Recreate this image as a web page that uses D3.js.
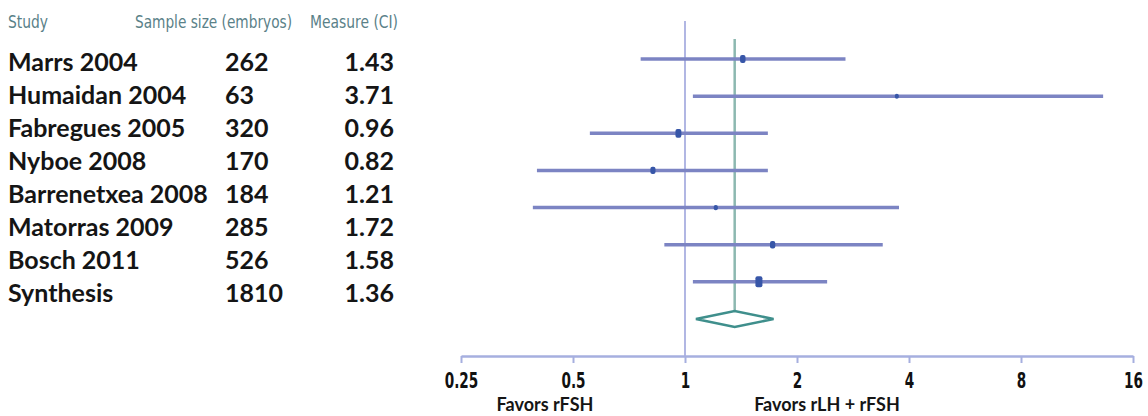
<!DOCTYPE html>
<html>
<head>
<meta charset="utf-8">
<script src="https://cdn.jsdelivr.net/npm/d3@7"></script>
<style>
  body { margin: 0; background: #fff; }
  svg { display: block; }
</style>
</head>
<body>
<div id="chart"></div>
<script>
// forest plot: rLH + rFSH vs rFSH
let studies = ["Marrs 2004", "Humaidan 2004", "Fabregues 2005", "Nyboe 2008",
  "Barrenetxea 2008", "Matorras 2009", "Bosch 2011", "Synthesis"];
let sampleSizes = [262, 63, 320, 170, 184, 285, 526, 1810];
let measures = [1.43, 3.71, 0.96, 0.82, 1.21, 1.72, 1.58, 1.36];
let ciLow = [0.76, 1.05, 0.555, 0.40, 0.39, 0.88, 1.05, 1.07];
let ciHigh = [2.70, 13.3, 1.67, 1.67, 3.76, 3.40, 2.41, 1.73];
let tickValues = [0.25, 0.5, 1, 2, 4, 8, 16];
let headers = ["Study", "Sample size (embryos)", "Measure (CI)"];
let sideLabels = ["Favors rFSH", "Favors rLH + rFSH"];

let width = 1148, height = 416;
let svg = d3.select("#chart").append("svg")
    .attr("width", width)
    .attr("height", height);

let rows = studies.map(function (s, i) {
    return {study: s, n: sampleSizes[i], m: measures[i], lo: ciLow[i], hi: ciHigh[i]};
});
let trials = rows.slice(0, rows.length - 1);
let pooled = rows[rows.length - 1];

let x = d3.scaleLog().base(2).domain([0.25, 16]).range([461, 1133]);
let yPlot = d3.scalePoint().domain(studies).range([59, 319]);
let yText = d3.scalePoint().domain(studies).range([71, 302]);

// marker size from the precision of each study (narrower CI = bigger box)
let prec = function (d) { return 1 / Math.log(d.hi / d.lo); };
let precExt = d3.extent(trials, prec);
let boxH = d3.scaleLinear().domain(precExt).range([5, 11]);
let boxW = d3.scaleLinear().domain(precExt).range([4, 7]);

// table
let headFont = "'DejaVu Sans Condensed', 'Liberation Sans', sans-serif";
let bodyFont = "Lato, 'Open Sans', sans-serif";
let headX = [8, 135, 310];
let headW = [40, 157, 88];
svg.selectAll(".head")
    .data(headers)
    .enter().append("text")
    .attr("class", "head")
    .attr("x", function (d, i) { return headX[i]; })
    .attr("y", 28)
    .attr("font-family", headFont)
    .attr("font-size", 17)
    .attr("fill", "#5a8188")
    .attr("textLength", function (d, i) { return headW[i]; })
    .attr("lengthAdjust", "spacingAndGlyphs")
    .text(function (d) { return d; });

let table = svg.append("g")
    .attr("font-family", bodyFont)
    .attr("font-weight", "bold")
    .attr("font-size", 25)
    .attr("fill", "#151515");
table.selectAll(".name")
    .data(rows).enter().append("text")
    .attr("x", 8)
    .attr("y", function (d) { return yText(d.study); })
    .text(function (d) { return d.study; });
table.selectAll(".size")
    .data(rows).enter().append("text")
    .attr("x", 225)
    .attr("y", function (d) { return yText(d.study); })
    .text(function (d) { return d.n; });
table.selectAll(".meas")
    .data(rows).enter().append("text")
    .attr("x", 394)
    .attr("text-anchor", "end")
    .attr("y", function (d) { return yText(d.study); })
    .text(function (d) { return d3.format(".2f")(d.m); });

// axis
let axis = svg.append("g")
    .attr("transform", "translate(0,356)")
    .call(d3.axisBottom(x).tickValues(tickValues)
        .tickSizeInner(7).tickSizeOuter(0)
        .tickFormat(function (d) { return d; }));
axis.select(".domain").attr("stroke", "#a6afdf").attr("stroke-width", 2.5);
axis.selectAll(".tick line").attr("stroke", "#a6afdf").attr("stroke-width", 2);
axis.selectAll(".tick text")
    .attr("y", 32)
    .attr("dy", 0)
    .attr("font-family", headFont)
    .attr("font-weight", "bold")
    .attr("font-size", 21)
    .attr("fill", "#111")
    .attr("transform", "scale(0.72,1)");

// no-effect line and pooled estimate line
svg.append("line")
    .attr("x1", x(1)).attr("x2", x(1))
    .attr("y1", 21).attr("y2", 356)
    .attr("stroke", "#a9afe0")
    .attr("stroke-width", 1.8);

svg.append("line")
    .attr("x1", x(pooled.m)).attr("x2", x(pooled.m))
    .attr("y1", 39).attr("y2", yPlot(pooled.study) - 8)
    .attr("stroke", "#8cb8b0")
    .attr("stroke-width", 2.5);

// CI lines
svg.selectAll(".ci")
    .data(trials).enter().append("line")
    .attr("x1", function (d) { return x(d.lo); })
    .attr("x2", function (d) { return x(d.hi); })
    .attr("y1", function (d) { return yPlot(d.study); })
    .attr("y2", function (d) { return yPlot(d.study); })
    .attr("stroke", "#7c84c3")
    .attr("stroke-width", 3.5);

// point estimates
svg.selectAll(".box")
    .data(trials).enter().append("rect")
    .attr("x", function (d) { return x(d.m) - boxW(prec(d)) / 2; })
    .attr("y", function (d) { return yPlot(d.study) - boxH(prec(d)) / 2; })
    .attr("width", function (d) { return boxW(prec(d)); })
    .attr("height", function (d) { return boxH(prec(d)); })
    .attr("rx", 2)
    .attr("fill", "#3756a8");

// pooled diamond
let yd = yPlot(pooled.study);
svg.append("polygon")
    .attr("points", [[x(pooled.lo), yd], [x(pooled.m), yd - 8],
        [x(pooled.hi), yd], [x(pooled.m), yd + 8]].join(" "))
    .attr("fill", "#fff")
    .attr("stroke", "#3f8f8c")
    .attr("stroke-width", 2.5);

// favors labels
let favX = [545, 827];
svg.selectAll(".fav")
    .data(sideLabels).enter().append("text")
    .attr("x", function (d, i) { return favX[i]; })
    .attr("y", 411)
    .attr("text-anchor", "middle")
    .attr("font-family", bodyFont)
    .attr("font-weight", "bold")
    .attr("font-size", 18)
    .attr("fill", "#151515")
    .text(function (d) { return d; });
</script>
</body>
</html>
